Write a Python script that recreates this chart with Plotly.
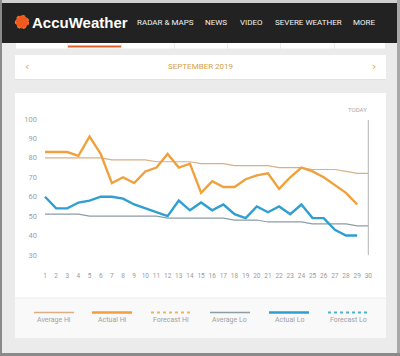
import plotly.graph_objects as go

W, H = 400, 356

days = list(range(1, 31))
day_ticks = list(range(1, 31))
temp_ticks = [30, 40, 50, 60, 70, 80, 90, 100]

avg_hi = [80, 80, 80, 80, 80, 80, 79, 79, 79, 79, 78, 78, 78, 78, 77,
          77, 77, 76, 76, 76, 76, 75, 75, 75, 74, 74, 74, 73, 72, 72]
actual_hi = [83, 83, 83, 81, 91, 82, 67, 70, 67, 73, 75, 82, 75, 77, 62,
             68, 65, 65, 69, 71, 72, 64, 70, 75, 73, 70, 66, 62, 56]
avg_lo = [51, 51, 51, 51, 50, 50, 50, 50, 50, 50, 50, 49, 49, 49, 49,
          49, 49, 48, 48, 48, 47, 47, 47, 47, 46, 46, 46, 46, 45, 45]
actual_lo = [60, 54, 54, 57, 58, 60, 60, 59, 56, 54, 52, 50, 58, 53, 57,
             53, 56, 51, 49, 55, 52, 55, 51, 56, 49, 49, 43, 40, 40]
forecast_hi = []
forecast_lo = []

legend_names = ["Average Hi", "Actual Hi", "Forecast Hi", "Average Lo", "Actual Lo", "Forecast Lo"]
nav_items = ["RADAR & MAPS", "NEWS", "VIDEO", "SEVERE WEATHER", "MORE"]

C_AVG_HI = "#dcae86"
C_ACT_HI = "#f0a03c"
C_FC_HI = "#f2b65a"
C_AVG_LO = "#8e9ca6"
C_ACT_LO = "#2f9fd2"
C_FC_LO = "#4fb3cc"


def px(x):
    return x / W


def py(y):
    return 1 - y / H


fig = go.Figure()
fig.add_trace(go.Scatter(x=days, y=avg_hi, mode="lines", name="Average Hi",
                         line=dict(color=C_AVG_HI, width=1.2)))
fig.add_trace(go.Scatter(x=days, y=avg_lo, mode="lines", name="Average Lo",
                         line=dict(color=C_AVG_LO, width=1.2)))
fig.add_trace(go.Scatter(x=days[:len(actual_hi)], y=actual_hi, mode="lines", name="Actual Hi",
                         line=dict(color=C_ACT_HI, width=2.4)))
fig.add_trace(go.Scatter(x=days[:len(actual_lo)], y=actual_lo, mode="lines", name="Actual Lo",
                         line=dict(color=C_ACT_LO, width=2.4)))
fig.add_trace(go.Scatter(x=days[:len(forecast_hi)], y=forecast_hi, mode="lines", name="Forecast Hi",
                         line=dict(color=C_FC_HI, width=2, dash="dot")))
fig.add_trace(go.Scatter(x=days[:len(forecast_lo)], y=forecast_lo, mode="lines", name="Forecast Lo",
                         line=dict(color=C_FC_LO, width=2, dash="dot")))

shapes = []


def rect(x0, y0, x1, y1, color, line=None):
    shapes.append(dict(type="rect", xref="paper", yref="paper", layer="below",
                       x0=px(x0), x1=px(x1), y0=py(y1), y1=py(y0),
                       fillcolor=color, line=dict(width=0) if line is None else line))


# page frame
rect(0, 0, 400, 4, "#cfcfcf")
rect(0, 3, 400, 43, "#222222")
rect(0, 0, 2, 356, "#8a8a8a")
rect(397, 0, 400, 356, "#a8a8a8")
rect(0, 353, 400, 356, "#8a8a8a")

# tab strip
tab_edges = [16, 68, 122, 175, 228, 281, 335, 386]
for i in range(len(tab_edges) - 1):
    rect(tab_edges[i], 43, tab_edges[i + 1] - 1, 48.5, "#ffffff")
rect(68, 45.5, 121, 47.5, "#e0602a")

# month box
rect(15, 56, 386, 80, "#e2e2e2")
rect(15, 55, 386, 79, "#ffffff")

# chart card
rect(15, 93, 386, 338, "#ffffff")
rect(15, 298, 386, 338, "#f9f9f9")
shapes.append(dict(type="line", xref="paper", yref="paper", layer="below",
                   x0=px(15), x1=px(386), y0=py(298), y1=py(298),
                   line=dict(color="#ebebeb", width=1)))

# logo sun
shapes.append(dict(type="circle", xref="paper", yref="paper",
                   x0=px(15.5), x1=px(28.5), y0=py(28.5), y1=py(15.5),
                   fillcolor="#ef5a1c", line=dict(color="#f47a3a", width=1.2, dash="dot")))

# today line
shapes.append(dict(type="line", xref="x", yref="paper", x0=30, x1=30,
                   y0=py(255), y1=py(120), line=dict(color="#b5b5b5", width=1)))

# legend
legend_cx = [54, 112, 171, 230, 289, 348]
legend_style = [(C_AVG_HI, 1.5, "solid"), (C_ACT_HI, 2.5, "solid"), (C_FC_HI, 2, "dot"),
                (C_AVG_LO, 1.5, "solid"), (C_ACT_LO, 2.5, "solid"), (C_FC_LO, 2, "dot")]
annotations = []
for name, cx, (col, wd, ds) in zip(legend_names, legend_cx, legend_style):
    shapes.append(dict(type="line", xref="paper", yref="paper",
                       x0=px(cx - 20), x1=px(cx + 20), y0=py(312.5), y1=py(312.5),
                       line=dict(color=col, width=wd, dash=ds)))
    annotations.append(dict(text=name, x=px(cx), y=py(319.5), xref="paper", yref="paper",
                            showarrow=False, xanchor="center", yanchor="middle",
                            font=dict(family="Roboto, Arial", size=7, color="#a0a0a0")))

# header text
annotations.append(dict(text="<b>AccuWeather</b>", x=px(30), y=py(22.5), xref="paper", yref="paper",
                        showarrow=False, xanchor="left", yanchor="middle",
                        font=dict(family="Arial, Liberation Sans", size=15, color="#ffffff")))
nav_x = [165, 216, 251.5, 308.5, 364]
for t, xc in zip(nav_items, nav_x):
    annotations.append(dict(text=t, x=px(xc), y=py(22.5), xref="paper", yref="paper",
                            showarrow=False, xanchor="center", yanchor="middle",
                            font=dict(family="Liberation Sans Narrow, Arial Narrow, Roboto", size=8,
                                      color="#f2f2f2")))

# month selector
annotations.append(dict(text="SEPTEMBER 2019", x=px(200), y=py(66.5), xref="paper", yref="paper",
                        showarrow=False, xanchor="center", yanchor="middle",
                        font=dict(family="Liberation Sans Narrow, Arial Narrow, Roboto", size=8,
                                  color="#d4a24a")))
annotations.append(dict(text="‹", x=px(27), y=py(66), xref="paper", yref="paper",
                        showarrow=False, xanchor="center", yanchor="middle",
                        font=dict(family="DejaVu Sans", size=11, color="#d8a850")))
annotations.append(dict(text="›", x=px(374), y=py(66), xref="paper", yref="paper",
                        showarrow=False, xanchor="center", yanchor="middle",
                        font=dict(family="DejaVu Sans", size=11, color="#d8a850")))

# TODAY label
annotations.append(dict(text="TODAY", x=30.1, xref="x", y=py(110), yref="paper",
                        showarrow=False, xanchor="right", yanchor="middle",
                        font=dict(family="Roboto, Arial", size=6, color="#a8a8a8")))

# axes geometry: day 1 -> 45px, day 30 -> 368.3px; 100 -> 119px, 30 -> 255px
xpp = (368.3 - 45) / 29
ypp = (255 - 119) / 70
xl, xr = 38, 384
yt, yb = 104, 270

fig.update_layout(
    width=W, height=H, autosize=False,
    margin=dict(l=0, r=0, t=0, b=0),
    paper_bgcolor="#ebebeb", plot_bgcolor="#ffffff",
    showlegend=False,
    shapes=shapes, annotations=annotations,
    xaxis=dict(domain=[px(xl), px(xr)],
               range=[1 - (45 - xl) / xpp, 30 + (xr - 368.3) / xpp],
               tickmode="array", tickvals=day_ticks, ticktext=[str(d) for d in day_ticks],
               showgrid=False, zeroline=False, showline=False, ticks="",
               tickfont=dict(family="Roboto, Arial", size=6.5, color="#9a9a9a"),
               fixedrange=True),
    yaxis=dict(domain=[py(yb), py(yt)],
               range=[30 - (yb - 255) / ypp, 100 + (119 - yt) / ypp],
               tickmode="array", tickvals=temp_ticks,
               showgrid=False, zeroline=False, showline=False, ticks="",
               tickfont=dict(family="Roboto, Arial", size=7.5, color="#a0a0a0"),
               fixedrange=True),
)

fig.write_html("out.html", config={"displayModeBar": False},
               post_script="document.body.style.margin='0';document.body.style.padding='0';")
